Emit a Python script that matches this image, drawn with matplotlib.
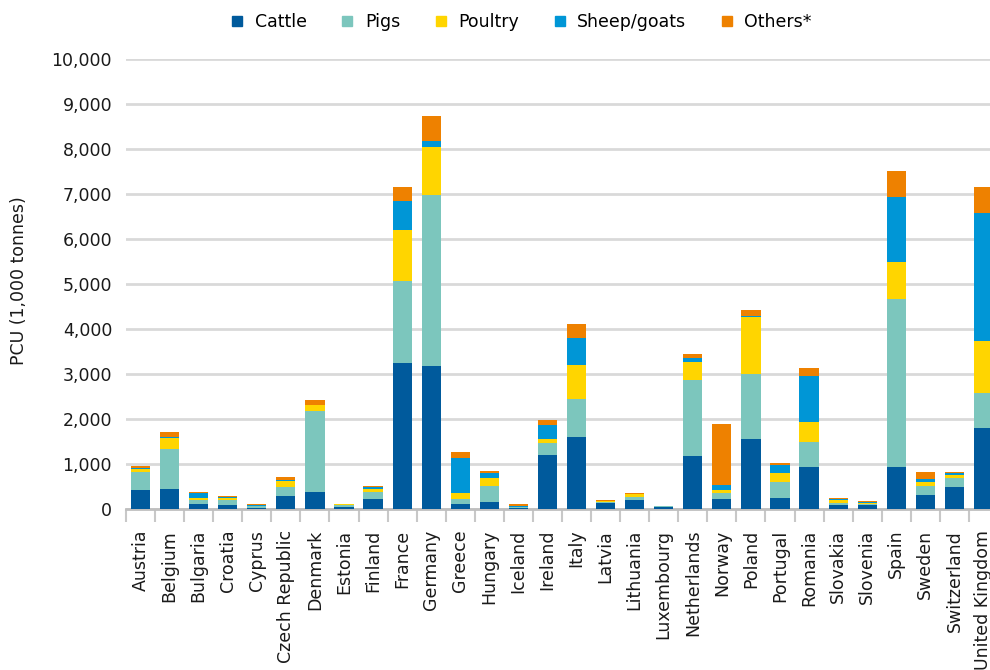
import numpy as np
import matplotlib
matplotlib.use("Agg")
import matplotlib.pyplot as plt
from matplotlib.lines import Line2D

countries = ["Austria", "Belgium", "Bulgaria", "Croatia", "Cyprus", "Czech Republic",
             "Denmark", "Estonia", "Finland", "France", "Germany", "Greece", "Hungary",
             "Iceland", "Ireland", "Italy", "Latvia", "Lithuania", "Luxembourg",
             "Netherlands", "Norway", "Poland", "Portugal", "Romania", "Slovakia",
             "Slovenia", "Spain", "Sweden", "Switzerland", "United Kingdom"]

cattle = [433, 455, 119, 97, 15, 299, 388, 52, 231, 3244, 3178, 105, 150, 22, 1197,
          1600, 130, 192, 40, 1180, 212, 1550, 234, 926, 97, 97, 926, 302, 480, 1796]
pigs = [380, 873, 90, 112, 45, 201, 1791, 45, 150, 1823, 3800, 110, 355, 15, 264,
        844, 25, 68, 18, 1687, 133, 1450, 357, 557, 45, 8, 3733, 204, 204, 780]
poultry = [68, 254, 45, 30, 15, 112, 134, 8, 74, 1140, 1066, 135, 179, 8, 93,
           756, 15, 71, 1, 400, 67, 1259, 201, 447, 67, 37, 830, 89, 63, 1150]
sheep_goats = [37, 15, 112, 37, 22, 22, 8, 7, 23, 637, 134, 784, 111, 30, 312,
               607, 7, 7, 1, 96, 112, 30, 178, 1026, 22, 22, 1437, 63, 45, 2844]
others = [30, 112, 22, 23, 7, 67, 104, 7, 44, 312, 555, 134, 49, 44, 112,
          304, 18, 15, 2, 81, 1361, 126, 45, 170, 8, 3, 578, 156, 22, 578]

series = [("Cattle", cattle, "#005a9c"),
          ("Pigs", pigs, "#7cc6bd"),
          ("Poultry", poultry, "#ffd500"),
          ("Sheep/goats", sheep_goats, "#0096d6"),
          ("Others*", others, "#ee8100")]

plt.rcParams["font.family"] = ["DejaVu Sans"]

fig = plt.figure(figsize=(9.9, 6.7), dpi=100)
ax = fig.add_axes([126 / 990, 161 / 670, 872 / 990, 450 / 670])

x = np.arange(len(countries))
bottom = np.zeros(len(countries))
for name, vals, col in series:
    ax.bar(x, vals, width=0.66, bottom=bottom, color=col, zorder=3)
    bottom += np.array(vals)

ax.set_xlim(-0.5, len(countries) - 0.5)
ax.set_ylim(0, 10000)
ax.set_yticks(range(0, 10001, 1000))
ax.set_yticklabels([f"{v:,}" for v in range(0, 10001, 1000)], fontsize=12.5, color="#1a1a1a")
ax.grid(axis="y", color="#d9d9d9", linewidth=2, zorder=0)
ax.tick_params(axis="y", length=0, pad=10)

ax.set_xticks(x)
ax.set_xticklabels(countries, rotation=90, fontsize=12.5, color="#1a1a1a")
ax.set_xticks(np.arange(-0.5, len(countries), 1), minor=True)
ax.tick_params(axis="x", which="major", length=0, pad=15)
ax.tick_params(axis="x", which="minor", length=9, width=1.5, color="#c8c8c8")

for s in ["top", "right", "left"]:
    ax.spines[s].set_visible(False)
ax.spines["bottom"].set_color("#bfbfbf")
ax.spines["bottom"].set_linewidth(2)

fig.text(19 / 990, 0.581, "PCU (1,000 tonnes)", rotation=90, va="center", ha="center",
         fontsize=12.5, color="#1a1a1a")

handles = [Line2D([], [], marker="s", linestyle="none", markersize=6.5, color=c)
           for _, _, c in series]
fig.legend(handles, [n for n, _, _ in series], loc="center", bbox_to_anchor=(522 / 990, 0.967),
           ncol=5, frameon=False, fontsize=12.5, handlelength=0.6, handletextpad=0.7,
           columnspacing=2.05)

fig.savefig("out.png", dpi=100)
